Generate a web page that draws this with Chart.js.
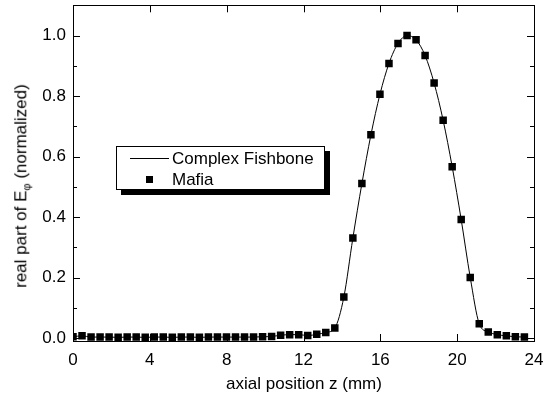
<!DOCTYPE html>
<html>
<head>
<meta charset="utf-8">
<script src="https://cdn.jsdelivr.net/npm/chart.js@4/dist/chart.umd.min.js"></script>
<style>
  body { margin: 0; background: #fff; }
  #wrap { position: relative; width: 548px; height: 403px; font-family: "Liberation Sans", Arial, sans-serif; }
  #chart { display: block; }
  #ytitle { position: absolute; left: 22px; top: 186px; transform: translate(-50%, -50%) rotate(-90deg); white-space: nowrap; font-size: 17px; color: #000; }
  #ytitle sub { font-size: 11px; }
  #xtitle { position: absolute; left: 304px; top: 384px; transform: translate(-50%, -50%); white-space: nowrap; font-size: 17px; color: #000; }
  #legend { position: absolute; left: 116px; top: 146px; width: 207px; height: 42px; border: 1px solid #000; background: #fff; box-shadow: 5px 5px 0 #000; font-size: 17px; }
  #legend .row { position: absolute; left: 55px; white-space: nowrap; line-height: 20px; }
  #legend .ln { position: absolute; left: 13px; top: 11px; width: 39px; height: 1px; background: #000; }
  #legend .mk { position: absolute; left: 29px; top: 29px; width: 7px; height: 7px; background: #000; }
</style>
</head>
<body>
<div id="wrap">
  <canvas id="chart" width="548" height="403"></canvas>
  <div id="ytitle">real part of E<sub>φ</sub> (normalized)</div>
  <div id="xtitle">axial position z (mm)</div>
  <div id="legend">
    <div class="ln"></div><div class="row" style="top:2px">Complex Fishbone</div>
    <div class="mk"></div><div class="row" style="top:23px">Mafia</div>
  </div>
</div>
<script>
// axial positions (mm)
const zPos = [0.00, 0.47, 0.94, 1.41, 1.88, 2.35, 2.82, 3.29, 3.76, 4.23,
              4.70, 5.17, 5.64, 6.11, 6.58, 7.05, 7.52, 7.99, 8.46, 8.93,
              9.40, 9.87, 10.34, 10.81, 11.28, 11.75, 12.22, 12.69, 13.16, 13.63,
              14.10, 14.57, 15.04, 15.51, 15.98, 16.45, 16.92, 17.39, 17.86, 18.33,
              18.80, 19.27, 19.74, 20.21, 20.68, 21.15, 21.62, 22.09, 22.56, 23.03, 23.50];
// real part of E_phi, normalized
const mafia = [0.005, 0.008, 0.004, 0.004, 0.004, 0.003, 0.004, 0.004, 0.003, 0.004,
               0.004, 0.003, 0.004, 0.004, 0.003, 0.004, 0.004, 0.004, 0.004, 0.004,
               0.004, 0.005, 0.006, 0.010, 0.012, 0.012, 0.009, 0.013, 0.019, 0.034,
               0.136, 0.331, 0.511, 0.672, 0.806, 0.908, 0.974, 1.000, 0.986, 0.934,
               0.843, 0.720, 0.567, 0.392, 0.201, 0.048, 0.021, 0.012, 0.008, 0.005, 0.004];
const fishbone = mafia;

const xTicks = [0, 4, 8, 12, 16, 20, 24];
const yTicks = [0.0, 0.2, 0.4, 0.6, 0.8, 1.0];
const yMinorTicks = [0.1, 0.3, 0.5, 0.7, 0.9];

const toPoints = (ys) => ys.map((y, i) => ({ x: zPos[i], y: y }));

// inward ticks on all four sides plus the frame
const framePlugin = {
    id: 'frame',
    afterDraw(chart) {
        const ctx = chart.ctx;
        const a = chart.chartArea;
        const xs = chart.scales.x, ys = chart.scales.y;
        ctx.save();
        ctx.strokeStyle = '#000';
        ctx.lineWidth = 1;
        ctx.strokeRect(Math.round(a.left) + 0.5, Math.round(a.top) + 0.5,
            Math.round(a.right - a.left), Math.round(a.bottom - a.top));
        ctx.beginPath();
        xTicks.forEach(v => {
            const px = Math.round(xs.getPixelForValue(v)) + 0.5;
            ctx.moveTo(px, a.bottom); ctx.lineTo(px, a.bottom - 7);
            ctx.moveTo(px, a.top); ctx.lineTo(px, a.top + 7);
        });
        yTicks.forEach(v => {
            const py = Math.round(ys.getPixelForValue(v)) + 0.5;
            ctx.moveTo(a.left, py); ctx.lineTo(a.left + 7, py);
            ctx.moveTo(a.right, py); ctx.lineTo(a.right - 7, py);
        });
        yMinorTicks.forEach(v => {
            const py = Math.round(ys.getPixelForValue(v)) + 0.5;
            ctx.moveTo(a.left, py); ctx.lineTo(a.left + 4, py);
            ctx.moveTo(a.right, py); ctx.lineTo(a.right - 4, py);
        });
        ctx.stroke();
        ctx.restore();
    }
};

const tickFont = { family: '"Liberation Sans", Arial, sans-serif', size: 17 };

new Chart(document.getElementById('chart'), {
    type: 'scatter',
    data: {
        datasets: [{
            label: 'Complex Fishbone',
            data: toPoints(fishbone),
            showLine: true,
            borderColor: '#000',
            borderWidth: 1,
            pointRadius: 0,
            cubicInterpolationMode: 'monotone',
            order: 2
        }, {
            label: 'Mafia',
            data: toPoints(mafia),
            showLine: false,
            pointStyle: 'rect',
            pointRadius: 5.3,
            pointBackgroundColor: '#000',
            pointBorderColor: '#000',
            pointBorderWidth: 0,
            order: 1
        }]
    },
    options: {
        responsive: false,
        animation: false,
        devicePixelRatio: 1,
        layout: { padding: { top: 4, right: 14, left: 0, bottom: 0 } },
        plugins: {
            legend: { display: false },
            tooltip: { enabled: false }
        },
        scales: {
            x: {
                type: 'linear',
                min: 0,
                max: 24,
                afterBuildTicks: (scale) => { scale.ticks = xTicks.map(v => ({ value: v })) },
                afterFit: (scale) => {
                    scale.height = 62
                    scale.paddingLeft = 0
                    scale.paddingRight = 0
                },
                grid: { display: false, drawTicks: false },
                border: { display: false },
                ticks: { color: '#000', font: tickFont, padding: 9, maxRotation: 0 }
            },
            y: {
                type: 'linear',
                min: -0.009,
                max: 1.1,
                afterBuildTicks: (scale) => { scale.ticks = yTicks.map(v => ({ value: v })) },
                afterFit: (scale) => {
                    scale.width = 73
                    scale.paddingTop = 0
                    scale.paddingBottom = 0
                },
                grid: { display: false, drawTicks: false },
                border: { display: false },
                ticks: {
                    color: '#000', font: tickFont, padding: 7,
                    callback: (v) => v.toFixed(1)
                }
            }
        }
    },
    plugins: [framePlugin]
});
</script>
</body>
</html>
